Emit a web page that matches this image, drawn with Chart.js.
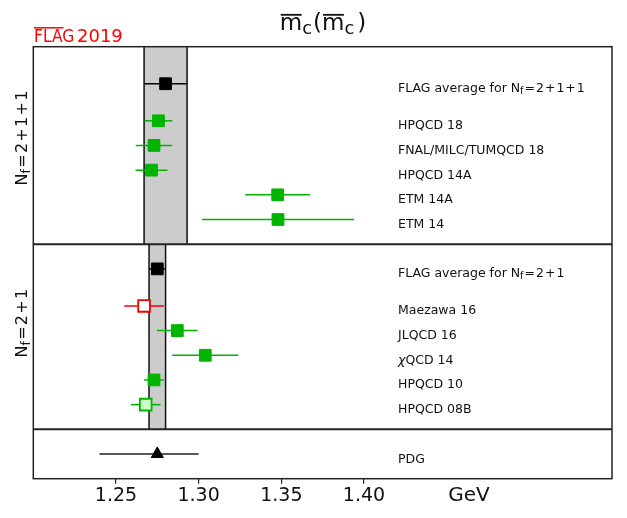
<!DOCTYPE html>
<html>
<head>
<meta charset="utf-8">
<script src="https://cdn.jsdelivr.net/npm/chart.js@4.4.1/dist/chart.umd.min.js"></script>
<style>
  html, body { margin: 0; padding: 0; background: #fff; }
  #wrap { width: 627px; height: 518px; }
</style>
</head>
<body>
<div id="wrap"><canvas id="mcChart"></canvas></div>
<script>
// Nf = 2+1+1 (top panel), first entry is the FLAG average
const labels4 = ["FLAG average for N_f=2+1+1", "HPQCD 18", "FNAL/MILC/TUMQCD 18", "HPQCD 14A", "ETM 14A", "ETM 14"];
const values4 = [1.280, 1.2757, 1.273, 1.2715, 1.3478, 1.348];
const errors4 = [0.013, 0.0084, 0.011, 0.0097, 0.0196, 0.046];
const status4 = ["avg", "in", "in", "in", "in", "in"];

// Nf = 2+1 (middle panel)
const labels3 = ["FLAG average for N_f=2+1", "Maezawa 16", "JLQCD 16", "χQCD 14", "HPQCD 10", "HPQCD 08B"];
const values3 = [1.275, 1.267, 1.2871, 1.304, 1.273, 1.268];
const errors3 = [0.005, 0.012, 0.0123, 0.020, 0.006, 0.009];
const status3 = ["avg", "bad", "in", "in", "in", "out"];

// PDG (bottom panel)
const pdgLabel = "PDG";
const pdgValue = 1.275;
const pdgErrLow = 0.035;
const pdgErrHigh = 0.025;

const xTicks = [1.25, 1.30, 1.35, 1.40];

const GREEN = "#00b400";
const RED = "#ee0000";
const FONT = '"DejaVu Sans"';

// panel extents on the (hidden) y scale
const panels = [
  { lo: 9.5, hi: 17.5, base: 10.5, side: "N_f=2+1+1", sideY: 13.8 },
  { lo: 2, hi: 9.5, base: 3, side: "N_f=2+1", sideY: 6.3 },
  { lo: 0, hi: 2 }
];

function buildRows(labels, values, errors, status, base) {
  const n = labels.length;
  return labels.map((l, i) => ({
    label: l,
    x: values[i],
    y: i === 0 ? base + (n - 2) + 1.5 : base + (n - 1 - i),
    lo: values[i] - errors[i],
    hi: values[i] + errors[i],
    status: status[i]
  }));
}

const rows = buildRows(labels4, values4, errors4, status4, panels[0].base)
  .concat(buildRows(labels3, values3, errors3, status3, panels[1].base));
const pdgRow = { label: pdgLabel, x: pdgValue, y: 1, lo: pdgValue - pdgErrLow, hi: pdgValue + pdgErrHigh, status: "pdg" };

const fillOf = { avg: "#000", in: GREEN, out: "#ccffcc", bad: "#fff", pdg: "#000" };
const edgeOf = { avg: "#000", in: GREEN, out: GREEN, bad: RED, pdg: "#000" };
const lineOf = { avg: "#000", in: GREEN, out: GREEN, bad: RED, pdg: "#222" };

const bands = [
  { lo: values4[0] - errors4[0], hi: values4[0] + errors4[0], y0: panels[0].lo, y1: panels[0].hi },
  { lo: values3[0] - errors3[0], hi: values3[0] + errors3[0], y0: panels[1].lo, y1: panels[1].hi }
];

function parseLabel(s) {
  const parts = [];
  let buf = "";
  const flush = () => { if (buf) parts.push({ t: buf }); buf = ""; };
  for (let i = 0; i < s.length; i++) {
    const c = s[i];
    if (c === "_") {
      flush();
      parts.push({ t: s[i + 1], sub: true });
      i++;
    } else if (/[\u0370-\u03ff]/.test(c)) {
      flush();
      parts.push({ t: c, it: true });
    } else if (c === "=" || c === "+") {
      flush();
      parts.push({ t: c, op: true });
    } else {
      buf += c;
    }
  }
  flush();
  return parts;
}

function fontFor(p, size) {
  return (p.it ? "italic " : "") + (p.sub ? size * 0.78 : size) + "px " + FONT;
}

function drawRich(ctx, parts, x, y, size, center) {
  const gap = size * 0.08;
  const w = parts.map(p => {
    ctx.font = fontFor(p, size);
    return ctx.measureText(p.t).width + (p.op ? 2 * gap : 0) + (p.after || 0);
  });
  const total = w.reduce((a, b) => a + b, 0);
  let cx = center ? x - total / 2 : x;
  ctx.textAlign = "left";
  ctx.textBaseline = "alphabetic";
  parts.forEach((p, i) => {
    ctx.font = fontFor(p, size);
    ctx.fillText(p.t, cx + (p.op ? gap : 0), y + (p.sub ? size * 0.17 : 0));
    if (p.bar) {
      const tw = ctx.measureText(p.t).width;
      ctx.save();
      ctx.lineWidth = 1.8;
      ctx.strokeStyle = ctx.fillStyle;
      ctx.beginPath();
      ctx.moveTo(cx + 1, y - size * 0.66);
      ctx.lineTo(cx + tw - 0.5, y - size * 0.66);
      ctx.stroke();
      ctx.restore();
    }
    cx += w[i];
  });
}

const panelPlugin = {
  id: "panelPlugin",
  beforeDatasetsDraw(chart) {
    const { ctx } = chart;
    const xs = chart.scales.x, ys = chart.scales.y;
    ctx.save();
    bands.forEach(b => {
      const x0 = xs.getPixelForValue(b.lo), x1 = xs.getPixelForValue(b.hi);
      const y0 = ys.getPixelForValue(b.y1), y1 = ys.getPixelForValue(b.y0);
      ctx.fillStyle = "#cccccc";
      ctx.fillRect(x0, y0, x1 - x0, y1 - y0);
      ctx.strokeStyle = "#111";
      ctx.lineWidth = 1.5;
      ctx.beginPath();
      ctx.moveTo(x0, y0); ctx.lineTo(x0, y1);
      ctx.moveTo(x1, y0); ctx.lineTo(x1, y1);
      ctx.stroke();
    });
    rows.concat([pdgRow]).forEach(r => {
      const y = ys.getPixelForValue(r.y);
      ctx.strokeStyle = lineOf[r.status];
      ctx.lineWidth = 1.5;
      ctx.beginPath();
      ctx.moveTo(xs.getPixelForValue(r.lo), y);
      ctx.lineTo(xs.getPixelForValue(r.hi), y);
      ctx.stroke();
    });
    ctx.restore();
  },
  afterDatasetsDraw(chart) {
    const { ctx, chartArea } = chart;
    const ys = chart.scales.y;
    ctx.save();
    ctx.strokeStyle = "#222";
    ctx.lineWidth = 1.5;
    ctx.strokeRect(chartArea.left, chartArea.top, chartArea.right - chartArea.left, chartArea.bottom - chartArea.top);
    ctx.lineWidth = 2;
    [panels[0].lo, panels[1].lo].forEach(v => {
      const y = ys.getPixelForValue(v);
      ctx.beginPath();
      ctx.moveTo(chartArea.left, y);
      ctx.lineTo(chartArea.right, y);
      ctx.stroke();
    });
    ctx.restore();
  },
  afterDraw(chart) {
    const { ctx } = chart;
    const ys = chart.scales.y;
    ctx.save();
    ctx.fillStyle = "#111";
    rows.concat([pdgRow]).forEach(r => {
      drawRich(ctx, parseLabel(r.label), 398, ys.getPixelForValue(r.y) + 8.5, 12.5, false);
    });

    // side labels, rotated
    panels.slice(0, 2).forEach(p => {
      ctx.save();
      ctx.translate(27, ys.getPixelForValue(p.sideY));
      ctx.rotate(-Math.PI / 2);
      ctx.fillStyle = "#111";
      drawRich(ctx, parseLabel(p.side), 0, 0, 16, true);
      ctx.restore();
    });

    // unit next to the ticks
    ctx.fillStyle = "#111";
    ctx.font = "20px " + FONT;
    ctx.textAlign = "center";
    ctx.textBaseline = "alphabetic";
    ctx.fillText("GeV", 469, 501);

    // title
    ctx.fillStyle = "#111";
    drawRich(ctx, [
      { t: "m", bar: true }, { t: "c", sub: true, after: 1 }, { t: "(" },
      { t: "m", bar: true }, { t: "c", sub: true, after: 3 }, { t: ")" }
    ], 323, 30, 23, true);

    // FLAG logo
    ctx.fillStyle = "#ff0000";
    ctx.strokeStyle = "#ff0000";
    ctx.save();
    ctx.translate(34, 41.7);
    ctx.scale(0.86, 1);
    ctx.font = "18px " + FONT;
    ctx.textAlign = "left";
    ctx.fillText("FLAG", 0, 0);
    ctx.restore();
    ctx.font = "18px " + FONT;
    ctx.fillText("2019", 77, 41.7);
    ctx.lineWidth = 1.5;
    ctx.beginPath();
    ctx.moveTo(34, 27.8);
    ctx.lineTo(63.5, 27.8);
    ctx.stroke();
    ctx.restore();
  }
};

new Chart(document.getElementById("mcChart"), {
  type: "scatter",
  data: {
    datasets: [{
      data: rows.map(r => ({ x: r.x, y: r.y })),
      pointStyle: "rect",
      pointRadius: 8.3,
      pointBackgroundColor: rows.map(r => fillOf[r.status]),
      pointBorderColor: rows.map(r => edgeOf[r.status]),
      pointBorderWidth: rows.map(r => (r.status === "bad" || r.status === "out") ? 1.8 : 1)
    }, {
      data: [{ x: pdgRow.x, y: pdgRow.y }],
      pointStyle: "triangle",
      pointRadius: 7,
      pointBackgroundColor: "#000",
      pointBorderColor: "#000",
      pointBorderWidth: 1
    }]
  },
  options: {
    responsive: true,
    maintainAspectRatio: false,
    animation: false,
    events: [],
    layout: { padding: { left: 33.3, right: 15, top: 46.7, bottom: 0 } },
    plugins: {
      legend: { display: false },
      tooltip: { enabled: false }
    },
    scales: {
      x: {
        type: "linear",
        min: 1.2,
        max: 1.55,
        afterBuildTicks: axis => { axis.ticks = xTicks.map(v => ({ value: v })); },
        afterFit: axis => { axis.height = 39.3; },
        ticks: {
          color: "#111",
          padding: 1,
          font: { family: "DejaVu Sans", size: 19 },
          callback: v => v.toFixed(2)
        },
        grid: { drawOnChartArea: false, tickLength: 5, color: "#222", lineWidth: 1.2 },
        border: { display: false }
      },
      y: { type: "linear", min: 0, max: 17.5, display: false }
    }
  },
  plugins: [panelPlugin]
});
</script>
</body>
</html>
